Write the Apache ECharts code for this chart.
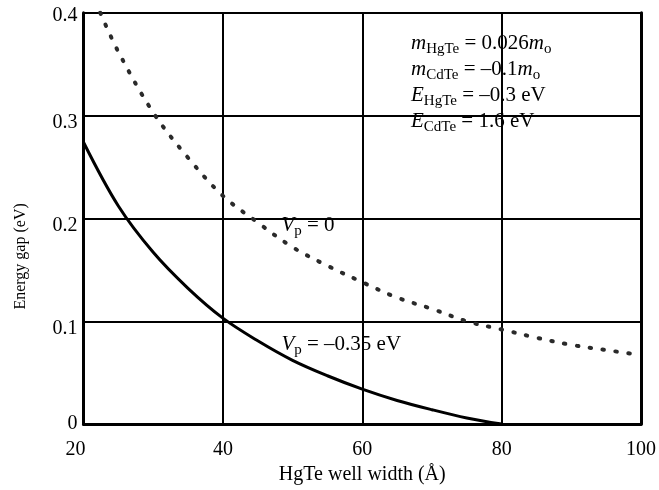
<!DOCTYPE html>
<html>
<head>
<meta charset="utf-8">
<script src="https://cdn.jsdelivr.net/npm/echarts@6/dist/echarts.min.js"></script>
<style>
html,body{margin:0;padding:0;background:#fff;}
#chart{width:659px;height:490px;}
</style>
</head>
<body>
<div id="chart"></div>
<script>
// Data
const widthSolid = [20, 25, 30, 35, 40, 45, 50, 55, 60, 65, 70, 75, 80];
const gapSolid = [0.274, 0.212, 0.167, 0.132, 0.103, 0.081, 0.062, 0.047, 0.034, 0.023, 0.014, 0.006, 0.0];
const widthDotted = [22.4, 25, 30, 35, 40, 45, 50, 55, 60, 65, 70, 75, 80, 85, 90, 95, 100];
const gapDotted = [0.4, 0.362, 0.303, 0.259, 0.222, 0.196, 0.172, 0.154, 0.138, 0.123, 0.112, 0.100, 0.092, 0.084, 0.077, 0.072, 0.067];
const xTicks = [20, 40, 60, 80, 100];
const yTicks = [0, 0.1, 0.2, 0.3, 0.4];

const FONT = '"Liberation Serif", "Times New Roman", serif';
const chart = echarts.init(document.getElementById('chart'));

const pair = (xs, ys) => xs.map((x, i) => [x, ys[i]]);

const option = {
  backgroundColor: '#fff',
  animation: false,
  grid: {left: 83.5, right: 13.5, top: 12.7, bottom: 62, containLabel: false},
  xAxis: [{
    type: 'value', min: 20, max: 100, interval: 20,
    name: 'HgTe well width (Å)', nameLocation: 'middle', nameGap: 31,
    nameTextStyle: {fontFamily: FONT, fontSize: 20, color: '#000'},
    axisLine: {show: true, onZero: false, lineStyle: {color: '#000', width: 3}},
    axisTick: {show: false},
    axisLabel: {
      fontFamily: FONT, fontSize: 20, color: '#000', margin: 16,
      formatter: v => v === 20 ? '{l|20}' : String(v),
      rich: {l: {fontFamily: FONT, fontSize: 20, color: '#000', padding: [0, 16, 4, 0]}}
    },
    splitLine: {show: true, lineStyle: {color: '#000', width: 2}}
  }],
  yAxis: [{
    type: 'value', min: 0, max: 0.4, interval: 0.1,
    name: 'Energy gap (eV)', nameLocation: 'middle', nameGap: 55,
    nameTextStyle: {fontFamily: FONT, fontSize: 16, color: '#000', padding: [0, 76, 0, 0]},
    axisLine: {show: true, onZero: false, lineStyle: {color: '#000', width: 3}},
    axisTick: {show: false},
    axisLabel: {
      fontFamily: FONT, fontSize: 20, color: '#000', margin: 6,
      formatter: v => {
        if (Math.abs(v) < 1e-9) return '{z|0}';
        if (Math.abs(v - 0.4) < 1e-9) return '{t|0.4}';
        return '{d|' + v.toFixed(1) + '}';
      },
      rich: {
        z: {fontFamily: FONT, fontSize: 20, color: '#000', padding: [0, 0, 0, 0]},
        t: {fontFamily: FONT, fontSize: 20, color: '#000', padding: [6, 0, 0, 0]},
        d: {fontFamily: FONT, fontSize: 20, color: '#000', padding: [14, 0, 0, 0]}
      }
    },
    splitLine: {show: true, lineStyle: {color: '#000', width: 2}}
  }, {
    type: 'value', min: 0, max: 0.4, interval: 0.1, position: 'right',
    axisLine: {show: true, onZero: false, lineStyle: {color: '#000', width: 3}},
    axisTick: {show: false}, axisLabel: {show: false}, splitLine: {show: false}
  }],
  series: [{
    type: 'line', name: 'Vp = -0.35 eV', data: pair(widthSolid, gapSolid),
    smooth: 0.35, showSymbol: false, symbol: 'none',
    lineStyle: {color: '#000', width: 3}
  }, {
    type: 'line', name: 'Vp = 0', data: pair(widthDotted, gapDotted),
    smooth: 0.35, showSymbol: false, symbol: 'none',
    lineStyle: {color: '#2a2a2a', width: 4, type: [1.5, 11.5], cap: 'round'}
  }]
};
chart.setOption(option);

const sub = {fontFamily: FONT, fontSize: 15, color: '#000', verticalAlign: 'bottom', lineHeight: 15};
const base = {fontFamily: FONT, fontSize: 21, color: '#000', lineHeight: 26};
const ital = {fontFamily: FONT, fontSize: 21, color: '#000', fontStyle: 'italic', lineHeight: 26};
const richText = {i: ital, n: base, s: sub};

const pVp0 = chart.convertToPixel({gridIndex: 0}, [48.4, 0.193]);
const pVp1 = chart.convertToPixel({gridIndex: 0}, [48.4, 0.077]);

chart.setOption({
  graphic: [{
    type: 'text', left: 411, top: 33,
    style: {
      text: '{i|m}{s|HgTe}{n| = 0.026}{i|m}{s|o}\n{i|m}{s|CdTe}{n| = –0.1}{i|m}{s|o}\n{i|E}{s|HgTe}{n| = –0.3 eV}\n{i|E}{s|CdTe}{n| = 1.6 eV}',
      rich: richText
    }
  }, {
    type: 'text', x: pVp0[0], y: pVp0[1],
    style: {text: '{i|V}{s|p}{n| = 0}', rich: richText, verticalAlign: 'middle', align: 'left'}
  }, {
    type: 'text', x: pVp1[0], y: pVp1[1],
    style: {text: '{i|V}{s|p}{n| = –0.35 eV}', rich: richText, verticalAlign: 'middle', align: 'left'}
  }]
});
</script>
</body>
</html>
